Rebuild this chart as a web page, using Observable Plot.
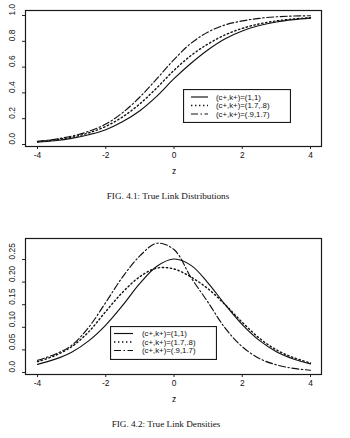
<!DOCTYPE html>
<html>
<head>
<meta charset="utf-8">
<script src="https://cdn.jsdelivr.net/npm/d3@7"></script>
<script src="https://cdn.jsdelivr.net/npm/@observablehq/plot@0.6"></script>
<style>
  html, body { margin: 0; padding: 0; background: #fff; }
  #page { position: relative; width: 350px; height: 438px; overflow: hidden; }
  .plot { position: absolute; left: 0; }
  .cap { position: absolute; font-family: "Liberation Serif", "DejaVu Serif", serif; font-size: 9.2px; color: #111; white-space: nowrap; transform: translate(-50%, -50%); }
  .legend { position: absolute; }
</style>
</head>
<body>
<div id="page"></div>
<script>
// ---- data ----
const z = [-4, -3.5, -3, -2.5, -2, -1.5, -1, -0.5, 0, 0.5, 1, 1.5, 2, 2.5, 3, 3.5, 4];
const seriesLabels = ["(c+,k+)=(1,1)", "(c+,k+)=(1.7,.8)", "(c+,k+)=(.9,1.7)"];

// Fig 4.1 : distributions
const cdfSolid   = [0.018, 0.029, 0.047, 0.076, 0.115, 0.178, 0.262, 0.375, 0.51, 0.63, 0.735, 0.82, 0.88, 0.922, 0.95, 0.968, 0.98];
const cdfDotted  = [0.022, 0.036, 0.056, 0.09, 0.14, 0.215, 0.315, 0.44, 0.575, 0.69, 0.78, 0.85, 0.9, 0.935, 0.958, 0.973, 0.983];
const cdfDashDot = [0.025, 0.04, 0.065, 0.102, 0.158, 0.248, 0.368, 0.51, 0.658, 0.785, 0.872, 0.927, 0.958, 0.978, 0.99, 0.996, 0.998];

// Fig 4.2 : densities
const pdfSolid   = [0.018, 0.029, 0.045, 0.07, 0.105, 0.149, 0.197, 0.235, 0.251, 0.237, 0.198, 0.15, 0.106, 0.071, 0.046, 0.03, 0.019];
const pdfDotted  = [0.024, 0.037, 0.057, 0.09, 0.135, 0.178, 0.212, 0.231, 0.229, 0.211, 0.185, 0.15, 0.111, 0.076, 0.05, 0.033, 0.021];
const pdfDashDot = [0.027, 0.04, 0.06, 0.1, 0.155, 0.212, 0.258, 0.286, 0.272, 0.21, 0.155, 0.098, 0.057, 0.031, 0.017, 0.009, 0.005];

const xTicks = [-4, -2, 0, 2, 4];
const xTickLabels = ["-4", "-2", "0", "2", "4"];
const cdfTicks = [0, 0.2, 0.4, 0.6, 0.8, 1.0];
const cdfTickLabels = ["0.0", "0.2", "0.4", "0.6", "0.8", "1.0"];
const pdfTicks = [0, 0.05, 0.10, 0.15, 0.20, 0.25];
const pdfTickLabels = ["0.0", "0.05", "0.10", "0.15", "0.20", "0.25"];
const xLabel = "z";
const captions = ["FIG. 4.1: True Link Distributions", "FIG. 4.2: True Link Densities"];

// ---- styles ----
const dashes = [null, "1.4,2.6", "7,2.5,1.5,2.5"];
const widths = [1.15, 1.4, 1.15];

function makePlot(series, yTicks, yTickLabels, yDomain, insetTop, insetBottom) {
  const marks = [
    Plot.frame({stroke: "#1a1a1a", strokeWidth: 1.2})
  ];
  series.forEach((vals, k) => {
    marks.push(Plot.line(z, {
      x: d => d, y: (d, i) => vals[i],
      curve: "catmull-rom", stroke: "#111", strokeWidth: widths[k],
      strokeDasharray: dashes[k]
    }));
  });
  marks.push(Plot.axisX(xTicks, {
    tickSize: 3, tickPadding: 3, label: null, stroke: "#222",
    tickFormat: d => xTickLabels[xTicks.indexOf(d)]
  }));
  marks.push(Plot.axisY(yTicks, {
    tickSize: 3, label: null, stroke: "#222", tickFormat: () => ""
  }));
  marks.push(Plot.text(yTicks, {
    y: d => d, text: (d, i) => yTickLabels[i],
    frameAnchor: "left", dx: -13, rotate: -90, fill: "#111"
  }));
  marks.push(Plot.text([xLabel], {
    x: () => 0, text: d => d, frameAnchor: "bottom", dy: 27, fill: "#111"
  }));
  return Plot.plot({
    width: 350, height: 180,
    marginLeft: 25, marginRight: 29, marginTop: 10, marginBottom: 34,
    insetLeft: 12, insetRight: 11, insetTop, insetBottom,
    x: {domain: [-4, 4]},
    y: {domain: yDomain},
    style: {fontFamily: "'Liberation Sans', Arial, sans-serif", fontSize: "8.4px", color: "#111", background: "transparent"},
    marks
  });
}

function makeLegend(left, top, w, h, sampleX0, sampleX1, textX, rowYs) {
  const svg = d3.create("svg").attr("class", "legend").attr("width", w).attr("height", h)
    .style("left", left + "px").style("top", top + "px");
  svg.append("rect").attr("x", 0.5).attr("y", 0.5).attr("width", w - 1).attr("height", h - 1)
    .attr("fill", "#fff").attr("stroke", "#1a1a1a").attr("stroke-width", 1.2);
  seriesLabels.forEach((lab, k) => {
    svg.append("line").attr("x1", sampleX0).attr("x2", sampleX1).attr("y1", rowYs[k]).attr("y2", rowYs[k])
      .attr("stroke", "#111").attr("stroke-width", widths[k]).attr("stroke-dasharray", dashes[k]);
    svg.append("text").attr("x", textX).attr("y", rowYs[k]).attr("dy", "0.35em")
      .attr("font-family", "'Liberation Sans', Arial, sans-serif").attr("font-size", 7.8)
      .attr("fill", "#111").text(lab);
  });
  return svg.node();
}

const page = document.getElementById("page");

const p1 = makePlot([cdfSolid, cdfDotted, cdfDashDot], cdfTicks, cdfTickLabels, [0, 1], 5, 2);
p1.classList.add("plot"); p1.style.top = "0px";
page.appendChild(p1);

const p2 = makePlot([pdfSolid, pdfDotted, pdfDashDot], pdfTicks, pdfTickLabels, [0, 0.25], 21, 2);
p2.classList.add("plot"); p2.style.top = "228px";
page.appendChild(p2);

page.appendChild(makeLegend(183, 89, 108, 34, 8, 25, 33, [8, 16.5, 25]));
page.appendChild(makeLegend(110, 326, 107, 34, 4, 23, 32, [7.5, 16, 24.5]));

[[captions[0], 168, 196], [captions[1], 166, 424]].forEach(([t, x, y]) => {
  const d = document.createElement("div");
  d.className = "cap"; d.textContent = t;
  d.style.left = x + "px"; d.style.top = y + "px";
  page.appendChild(d);
});
</script>
</body>
</html>
